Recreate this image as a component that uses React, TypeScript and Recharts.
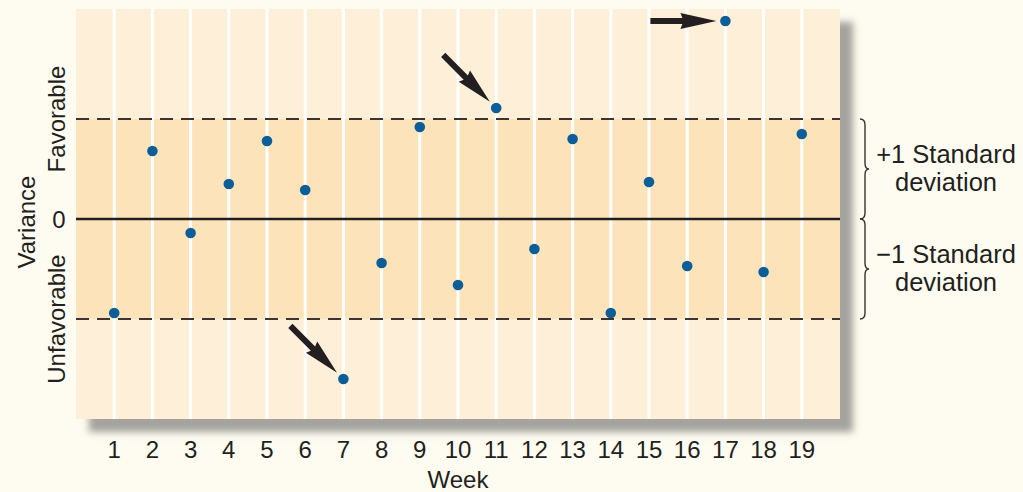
import React from 'react';
import {
  ScatterChart, Scatter, XAxis, YAxis, ReferenceArea, ReferenceLine
} from 'recharts';

const weeks = [1, 2, 3, 4, 5, 6, 7, 8, 9, 10, 11, 12, 13, 14, 15, 16, 17, 18, 19];
const variances = [
  -0.94, 0.68, -0.14, 0.35, 0.78, 0.29, -1.6, -0.44, 0.92, -0.66,
  1.11, -0.3, 0.8, -0.94, 0.37, -0.47, 1.98, -0.53, 0.85,
];
const leftTicks = [1, 0, -1];
const leftTickLabels = ['Favorable', '0', 'Unfavorable'];
const sdBands = [[0, 1], [-1, 0]];
const sdBandLabels = [['+1 Standard', 'deviation'], ['\u22121 Standard', 'deviation']];
const arrowWeeks = [7, 11, 17];
const arrowAngles = [45, 45, 0];

const data = weeks.map((w, i) => ({ week: w, variance: variances[i] }));

const FONT = '"Liberation Sans", Arial, Helvetica, sans-serif';
const TEXT = '#231f20';

const W = 1023;
const H = 492;
const M = { top: 9, left: 76, right: 183, bottom: 73 };

const Dot = (props: any) => {
  const { cx, cy, payload } = props;
  const idx = arrowWeeks.indexOf(payload.week);
  let arrow = null;
  if (idx >= 0) {
    const a = (arrowAngles[idx] * Math.PI) / 180;
    // unit vector from the point back toward the arrow tail
    const ux = -Math.cos(a);
    const uy = -Math.sin(a);
    const px = -uy;
    const py = ux;
    const at = (d: number, s: number) =>
      `${cx + ux * d + px * s},${cy + uy * d + py * s}`;
    const pts = [
      at(9, 0), at(45, 8), at(43, 3), at(75, 3), at(75, -3), at(43, -3), at(45, -8),
    ].join(' ');
    arrow = <polygon points={pts} fill={TEXT} />;
  }
  return (
    <g>
      {arrow}
      <circle cx={cx} cy={cy} r={5.3} fill="#0b5e98" />
    </g>
  );
};

const LeftTick = (props: any) => {
  const { y, payload } = props;
  const i = leftTicks.indexOf(payload.value);
  const label = leftTickLabels[i];
  if (payload.value === 0) {
    return (
      <text x={59} y={y} textAnchor="middle" dominantBaseline="central"
        fontFamily={FONT} fontSize={24} fill={TEXT}>{label}</text>
    );
  }
  return (
    <text x={65} y={y} textAnchor="middle" transform={`rotate(-90, 65, ${y})`}
      fontFamily={FONT} fontSize={24} fill={TEXT}>{label}</text>
  );
};

// curly brace + two-line caption to the right of a band
const bandLabel = (lines: string[]) => (props: any) => {
  const { viewBox } = props;
  if (!viewBox) return null;
  const { x, y, width, height } = viewBox;
  const bx = x + width + 25;
  const top = y;
  const bot = y + height;
  const mid = y + height / 2;
  const d = `M ${bx - 5} ${top} Q ${bx} ${top} ${bx} ${top + 6} L ${bx} ${mid - 6} Q ${bx} ${mid} ${bx + 4} ${mid} Q ${bx} ${mid} ${bx} ${mid + 6} L ${bx} ${bot - 6} Q ${bx} ${bot} ${bx - 5} ${bot}`;
  const tx = x + width + 106;
  return (
    <g>
      <path d={d} fill="none" stroke="#333" strokeWidth={1.4} />
      <text x={tx} y={mid - 6} textAnchor="middle" fontFamily={FONT} fontSize={25.5} fill={TEXT}>{lines[0]}</text>
      <text x={tx} y={mid + 22} textAnchor="middle" fontFamily={FONT} fontSize={25.5} fill={TEXT}>{lines[1]}</text>
    </g>
  );
};

export default function App() {
  return (
    <div style={{ position: 'fixed', left: 0, top: 0, width: W, height: H, background: '#fefcf0' }}>
      <div style={{
        position: 'absolute', left: M.left, top: M.top,
        width: W - M.left - M.right, height: H - M.top - M.bottom,
        background: '#fdefd8', boxShadow: '13px 13px 7px rgba(90,90,90,0.55)',
      }} />
      <div style={{ position: 'absolute', left: 0, top: 0 }}>
        <ScatterChart width={W} height={H} margin={{ top: M.top, left: 0, right: M.right, bottom: 0 }}>
          <XAxis dataKey="week" type="number" domain={[0, 20]} ticks={weeks} interval={0}
            axisLine={false} tickLine={false} tickSize={0} tickMargin={22} height={M.bottom}
            tick={{ fontFamily: FONT, fontSize: 24, fill: TEXT }}
            label={{ value: 'Week', position: 'insideBottom', offset: 4, fontFamily: FONT, fontSize: 24, fill: TEXT }} />
          <YAxis dataKey="variance" type="number" domain={[-2, 2.1]} ticks={leftTicks}
            axisLine={false} tickLine={false} width={M.left} tick={<LeftTick />}
            label={{ value: 'Variance', angle: -90, position: 'center', dx: -12, dy: 8, fontFamily: FONT, fontSize: 24, fill: TEXT }} />
          <ReferenceArea y1={-1} y2={1} fill="#fde3b9" fillOpacity={1} stroke="none" />
          {weeks.map((w) => (
            <ReferenceLine key={w} x={w} stroke="#ffffff" strokeWidth={3} />
          ))}
          <ReferenceLine y={1} stroke="#3a3533" strokeWidth={2} strokeDasharray="13 8" />
          <ReferenceLine y={-1} stroke="#3a3533" strokeWidth={2} strokeDasharray="13 8" />
          <ReferenceLine y={0} stroke="#231f20" strokeWidth={2.5} />
          {sdBands.map((b, i) => (
            <ReferenceArea key={i} y1={b[0]} y2={b[1]} fill="none" stroke="none"
              label={bandLabel(sdBandLabels[i])} />
          ))}
          <Scatter data={data} shape={<Dot />} isAnimationActive={false} />
        </ScatterChart>
      </div>
    </div>
  );
}
